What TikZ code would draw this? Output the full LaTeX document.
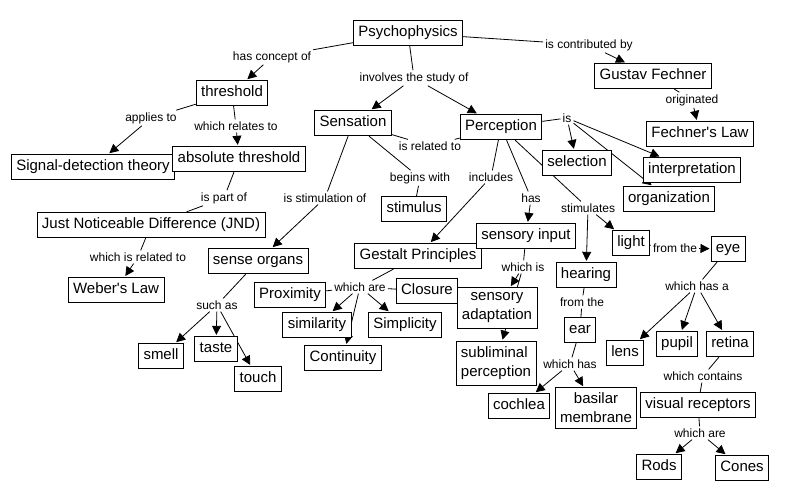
\documentclass[tikz,border=0pt]{standalone}
\usepackage{fontspec}
\setmainfont{Liberation Sans}
\usetikzlibrary{arrows.meta}
\usetikzlibrary{backgrounds}

\tikzset{
  concept/.style={draw, fill=white, line width=0.8pt, font=\fontsize{15}{19}\selectfont,
    inner xsep=5pt, inner ysep=5.5pt, text height=11pt, text depth=3.5pt},
  concepttwo/.style={draw, fill=white, line width=0.8pt, font=\fontsize{15}{19}\selectfont,
    inner xsep=5pt, inner ysep=5.5pt, align=center},
  linkphrase/.style={font=\fontsize{12}{14}\selectfont, inner sep=2pt},
  link/.style={line width=0.8pt},
  arr/.style={line width=0.8pt, -{Triangle[length=9pt,width=9pt]}, shorten >=1pt}
}

\begin{document}
\begin{tikzpicture}[x=1pt,y=-1pt]
            \useasboundingbox (0,0) rectangle (786,500);

            % concepts
            \node[concept] (psy) at (408,33) {Psychophysics};
            \node[concept] (thr) at (232,93) {threshold};
            \node[concept] (sdt) at (93,167) {Signal-detection theory};
            \node[concept] (absthr) at (239,159) {absolute threshold};
            \node[concept] (jnd) at (151,225) {Just Noticeable Difference (JND)};
            \node[concept] (weber) at (116,290) {Weber\textquotesingle s Law};
            \node[concept] (sens) at (353,123) {Sensation};
            \node[concept] (perc) at (501,127) {Perception};
            \node[concept] (stim) at (414,209) {stimulus};
            \node[concept] (organs) at (258,261) {sense organs};
            \node[concept] (smell) at (161,356) {smell};
            \node[concept] (taste) at (216,349) {taste};
            \node[concept] (touch) at (258,379) {touch};
            \node[concept] (gestalt) at (418,256) {Gestalt Principles};
            \node[concept] (input) at (526,236) {sensory input};
            \node[concept] (prox) at (290,295) {Proximity};
            \node[concept] (closure) at (427,291) {Closure};
            \node[concept] (simil) at (317,325) {similarity};
            \node[concept] (simpl) at (405,325) {Simplicity};
            \node[concept] (contin) at (343,358) {Continuity};
            \node[concepttwo] (adapt) at (497,308) {sensory\\adaptation};
            \node[concepttwo, align=left] (sublim) at (496,363) {subliminal\\perception};
            \node[concept] (selection) at (577,163) {selection};
            \node[concept] (interp) at (692,170) {interpretation};
            \node[concept] (organiz) at (669,199) {organization};
            \node[concept] (fechlaw) at (700,134) {Fechner\textquotesingle s Law};
            \node[concept] (fechner) at (653,76) {Gustav Fechner};
            \node[concept] (light) at (631,243) {light};
            \node[concept] (eye) at (728,249) {eye};
            \node[concept] (hearing) at (586,275) {hearing};
            \node[concept] (ear) at (580,330) {ear};
            \node[concept] (cochlea) at (519,406) {cochlea};
            \node[concepttwo] (basilar) at (596,408) {basilar\\membrane};
            \node[concept] (lens) at (625,353) {lens};
            \node[concept] (pupil) at (677,344) {pupil};
            \node[concept] (retina) at (730,344) {retina};
            \node[concept] (receptors) at (698,405) {visual receptors};
            \node[concept] (rods) at (659,467) {Rods};
            \node[concept] (cones) at (742,468) {Cones};

            % linking phrases
            \node[linkphrase] (hascon) at (272,57) {has concept of};
            \node[linkphrase] (involves) at (414,78) {involves the study of};
            \node[linkphrase] (contrib) at (589,45) {is contributed by};
            \node[linkphrase] (orig) at (692,100) {originated};
            \node[linkphrase] (applies) at (151,118) {applies to};
            \node[linkphrase] (relates) at (236,126) {which relates to};
            \node[linkphrase] (partof) at (224,198) {is part of};
            \node[linkphrase] (relto) at (138,257) {which is related to};
            \node[linkphrase] (isrel) at (430,146) {is related to};
            \node[linkphrase] (begins) at (420,178) {begins with};
            \node[linkphrase] (isstim) at (325,198) {is stimulation of};
            \node[linkphrase] (suchas) at (217,305) {such as};
            \node[linkphrase] (includes) at (491,177) {includes};
            \node[linkphrase] (has) at (531,198) {has};
            \node[linkphrase] (whichare) at (360,287) {which are};
            \node[linkphrase] (whichis) at (523,267) {which is};
            \node[linkphrase] (stimulates) at (588,208) {stimulates};
            \node[linkphrase] (is) at (567,118) {is};
            \node[linkphrase] (fromthe) at (675,248) {from the};
            \node[linkphrase] (fromtheb) at (582,302) {from the};
            \node[linkphrase] (whichhas) at (570,364) {which has};
            \node[linkphrase] (whichhasa) at (697,286) {which has a};
            \node[linkphrase] (contains) at (703,376) {which contains};
            \node[linkphrase] (whichareb) at (700,433) {which are};

            % connectors
            \begin{scope}[on background layer]
            \draw[link] (psy) -- (hascon);
            \draw[arr] (hascon) -- (thr);
            \draw[link] (psy) -- (involves);
            \draw[arr] (involves) -- (sens);
            \draw[arr] (involves) -- (perc);
            \draw[link] (psy) -- (contrib);
            \draw[arr] (contrib) -- (fechner);
            \draw[link] (fechner) -- (orig);
            \draw[arr] (orig) -- (fechlaw);
            \draw[link] (thr) -- (applies);
            \draw[arr] (applies) -- (sdt);
            \draw[link] (thr) -- (relates);
            \draw[arr] (relates) -- (absthr);
            \draw[link] (absthr) -- (partof) -- (jnd);
            \draw[link] (jnd) -- (relto);
            \draw[arr] (relto) -- (weber);
            \draw[link] (sens) -- (isrel) -- (perc);
            \draw[link] (sens) -- (begins) -- (stim);
            \draw[link] (sens) -- (isstim);
            \draw[arr] (isstim) -- (organs);
            \draw[link] (organs) -- (suchas);
            \foreach \t in {smell,taste,touch}
              \draw[arr] (suchas) -- (\t);
            \draw[link] (perc) -- (includes);
            \draw[arr] (includes) -- (gestalt);
            \draw[link] (perc) -- (has);
            \draw[arr] (has) -- (input);
            \draw[link] (perc) -- (is);
            \foreach \t in {selection,interp,organiz}
              \draw[arr] (is) -- (\t);
            \draw[link] (perc) -- (stimulates);
            \draw[arr] (stimulates) -- (hearing);
            \draw[arr] (stimulates) -- (light);
            \draw[link] (light) -- (fromthe);
            \draw[arr] (fromthe) -- (eye);
            \draw[link] (eye) -- (whichhasa);
            \foreach \t in {lens,pupil,retina}
              \draw[arr] (whichhasa) -- (\t);
            \draw[link] (retina) -- (contains) -- (receptors);
            \draw[link] (receptors) -- (whichareb);
            \draw[arr] (whichareb) -- (rods);
            \draw[arr] (whichareb) -- (cones);
            \draw[link] (hearing) -- (fromtheb) -- (ear);
            \draw[link] (ear) -- (whichhas);
            \draw[arr] (whichhas) -- (cochlea);
            \draw[arr] (whichhas) -- (basilar);
            \draw[link] (input) -- (whichis);
            \draw[arr] (whichis) -- (adapt);
            \draw[arr] (whichis) -- (sublim);
            \draw[link] (gestalt) -- (whichare);
            \draw[link] (whichare) -- (prox);
            \draw[link] (whichare) -- (closure);
            \foreach \t in {simil,simpl,contin}
              \draw[arr] (whichare) -- (\t);
            \end{scope}
        \end{tikzpicture}
\end{document}
